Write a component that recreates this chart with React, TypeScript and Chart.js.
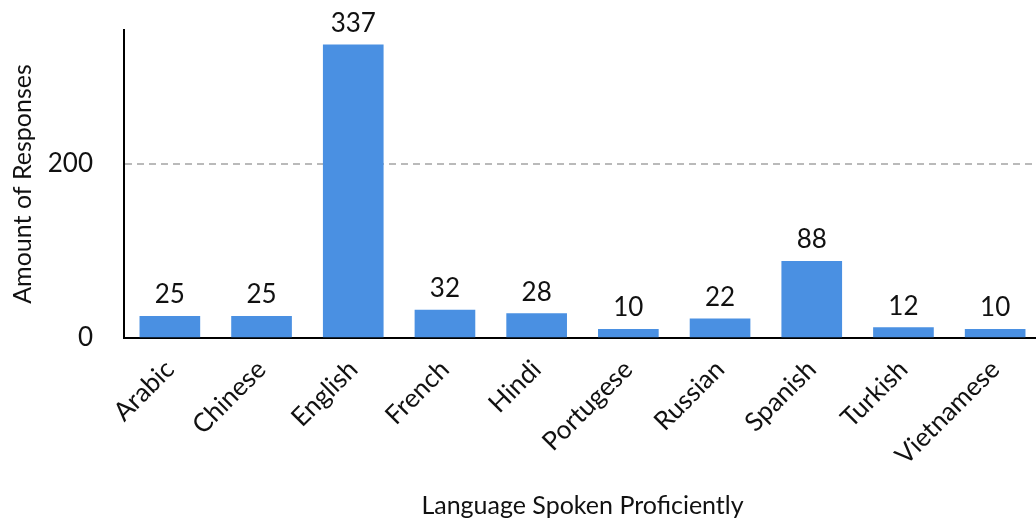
import React, { useEffect, useRef } from "react";
import { Chart, registerables } from "chart.js";

Chart.register(...registerables);

const categories = ["Arabic", "Chinese", "English", "French", "Hindi", "Portugese", "Russian", "Spanish", "Turkish", "Vietnamese"];
const responses = [25, 25, 337, 32, 28, 10, 22, 88, 12, 10];
const yTicks = [0, 200];
const yMax = 354;
const xTitle = "Language Spoken Proficiently";
const yTitle = "Amount of Responses";

const FONT = "Lato, 'Open Sans', sans-serif";
const BAR = "#4A90E2";
const FS = 25;
const FT = 26;

const valueLabels = {
  id: "valueLabels",
  afterDatasetsDraw(chart: any) {
    const ctx = chart.ctx;
    const meta = chart.getDatasetMeta(0);
    ctx.save();
    ctx.font = `${FT}px ${FONT}`;
    ctx.fillStyle = "#111";
    ctx.textAlign = "center";
    ctx.textBaseline = "alphabetic";
    meta.data.forEach((bar: any, i: number) => {
      ctx.fillText(String(responses[i]), bar.x, bar.y - 13);
    });
    ctx.restore();
  },
};

export default function App() {
  const ref = useRef<HTMLCanvasElement | null>(null);
  useEffect(() => {
    if (!ref.current) return;
    const chart = new Chart(ref.current, {
      type: "bar",
      data: {
        labels: categories,
        datasets: [
          {
            data: responses,
            backgroundColor: BAR,
            barThickness: 60,
          },
        ],
      },
      options: {
        animation: false,
        responsive: true,
        maintainAspectRatio: false,
        layout: { padding: { top: 30, right: 0, left: 0, bottom: 0 } },
        plugins: { legend: { display: false }, tooltip: { enabled: false } },
        scales: {
          x: {
            grid: { display: true, color: "rgba(0,0,0,0)", drawTicks: false },
            border: { display: true, color: "#000", width: 2 },
            ticks: {
              color: "#111",
              font: { family: FONT, size: FT },
              minRotation: 45,
              maxRotation: 45,
              padding: 16,
              autoSkip: false,
            },
            title: {
              display: true,
              text: xTitle,
              color: "#111",
              font: { family: FONT, size: FS },
              padding: { top: 0, bottom: -2 },
            },
            afterFit(scale: any) {
              scale.height = 181;
            },
          },
          y: {
            min: 0,
            max: yMax,
            afterBuildTicks(scale: any) {
              scale.ticks = yTicks.map((v) => ({ value: v }));
            },
            grid: {
              drawTicks: false,
              color: (c: any) => (c.tick && c.tick.value === 0 ? "rgba(0,0,0,0)" : "#bababa"),
              lineWidth: 2,
            },
            border: { display: true, color: "#000", width: 2, dash: [7, 5] },
            ticks: {
              color: "#111",
              font: { family: FONT, size: FT },
              padding: 31,
            },
            title: {
              display: true,
              text: yTitle,
              color: "#111",
              font: { family: FONT, size: FS },
              padding: { top: 8, bottom: 0 },
            },
            afterFit(scale: any) {
              scale.width = 124;
              scale.paddingTop = 0;
              scale.paddingBottom = 0;
            },
          },
        },
      },
      plugins: [valueLabels],
    });
    return () => chart.destroy();
  }, []);

  return (
    <div style={{ position: "fixed", left: 0, top: 0, width: 1036, height: 519, overflow: "hidden", background: "#fff" }}>
      <div style={{ position: "relative", width: 1041, height: 519 }}>
        <canvas ref={ref} />
      </div>
    </div>
  );
}
